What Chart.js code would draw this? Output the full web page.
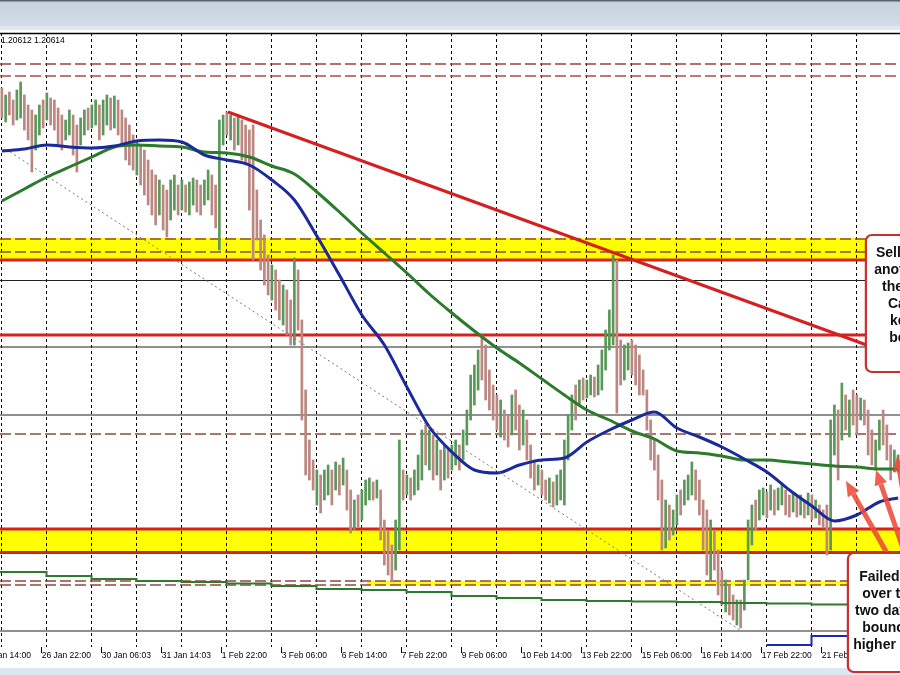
<!DOCTYPE html>
<html><head><meta charset="utf-8">
<script src="https://cdn.jsdelivr.net/npm/chart.js@4/dist/chart.umd.min.js"></script>
<style>html,body{margin:0;padding:0;background:#fff;overflow:hidden}#wrap{width:900px;height:675px;position:relative}</style>
</head><body><div id="wrap"><canvas id="c" width="900" height="675"></canvas></div>
<script>
// ---- data: GBPUSD, 2-hour bars (price) ----
const highs = [
1.2445,1.2438,1.2441,1.2433,1.2443,1.2451,1.2438,1.2428,1.2423,1.2418,
1.2428,1.2433,1.2440,1.2435,1.2433,1.2425,1.2418,1.2413,1.2423,1.2418,
1.2408,1.2415,1.2423,1.2425,1.2428,1.2433,1.2428,1.2433,1.2438,1.2435,
1.2437,1.2433,1.2423,1.2415,1.2408,1.2398,1.2393,1.2388,1.2383,1.2373,
1.2363,1.2358,1.2353,1.2348,1.2343,1.2353,1.2358,1.2348,1.2353,1.2348,
1.2351,1.2355,1.2353,1.2348,1.2353,1.2363,1.2358,1.2348,1.2413,1.2418,
1.2421,1.2418,1.2415,1.2418,1.2413,1.2408,1.2403,1.2408,1.2343,1.2313,
1.2298,1.2278,1.2268,1.2263,1.2253,1.2248,1.2243,1.2233,1.2275,1.2263,
1.2213,1.2143,1.2093,1.2073,1.2063,1.2058,1.2063,1.2068,1.2063,1.2071,
1.2068,1.2075,1.2063,1.2043,1.2033,1.2038,1.2043,1.2053,1.2055,1.2051,
1.2053,1.2043,1.2013,1.2003,1.1988,1.2013,1.2093,1.2063,1.2058,1.2055,
1.2063,1.2078,1.2103,1.2108,1.2103,1.2098,1.2093,1.2083,1.2088,1.2083,
1.2088,1.2093,1.2088,1.2103,1.2123,1.2158,1.2168,1.2183,1.2198,1.2188,
1.2163,1.2148,1.2138,1.2133,1.2123,1.2118,1.2138,1.2143,1.2128,1.2123,
1.2113,1.2088,1.2073,1.2068,1.2063,1.2053,1.2055,1.2051,1.2058,1.2063,
1.2093,1.2118,1.2138,1.2148,1.2153,1.2155,1.2153,1.2158,1.2156,1.2168,
1.2183,1.2203,1.2223,1.2278,1.2273,1.2193,1.2188,1.2190,1.2193,1.2188,
1.2178,1.2163,1.2143,1.2113,1.2093,1.2078,1.2053,1.2033,1.2028,1.2023,
1.2038,1.2043,1.2053,1.2058,1.2071,1.2063,1.2053,1.2033,1.2023,1.2013,
1.2003,1.1983,1.1963,1.1953,1.1948,1.1938,1.1933,1.1933,1.1953,1.2013,
1.2028,1.2033,1.2043,1.2045,1.2041,1.2048,1.2043,1.2045,1.2050,1.2043,
1.2038,1.2040,1.2036,1.2038,1.2033,1.2040,1.2038,1.2033,1.2028,1.2023,
1.2028,1.2113,1.2128,1.2123,1.2150,1.2138,1.2133,1.2143,1.2138,1.2135,
1.2133,1.2123,1.2103,1.2093,1.2113,1.2123,1.2108,1.2088,1.2083,1.2078];
const lows = [
1.2415,1.2411,1.2418,1.2408,1.2413,1.2415,1.2403,1.2393,1.2361,1.2383,
1.2398,1.2405,1.2413,1.2408,1.2403,1.2388,1.2383,1.2393,1.2398,1.2378,
1.2361,1.2388,1.2398,1.2403,1.2405,1.2408,1.2393,1.2398,1.2408,1.2403,
1.2405,1.2398,1.2388,1.2373,1.2368,1.2363,1.2358,1.2348,1.2338,1.2328,
1.2318,1.2308,1.2318,1.2303,1.2296,1.2313,1.2323,1.2318,1.2323,1.2321,
1.2318,1.2328,1.2321,1.2318,1.2328,1.2333,1.2318,1.2305,1.2283,1.2388,
1.2398,1.2393,1.2383,1.2388,1.2373,1.2368,1.2323,1.2273,1.2293,1.2263,
1.2248,1.2238,1.2233,1.2223,1.2213,1.2208,1.2198,1.2188,1.2188,1.2203,
1.2113,1.2058,1.2053,1.2043,1.2028,1.2020,1.2033,1.2038,1.2028,1.2043,
1.2038,1.2048,1.2023,1.2000,1.2003,1.2006,1.2013,1.2028,1.2033,1.2033,
1.2035,1.1993,1.1968,1.1958,1.1951,1.1963,1.1983,1.2033,1.2038,1.2033,
1.2038,1.2043,1.2053,1.2068,1.2063,1.2053,1.2058,1.2043,1.2053,1.2055,
1.2063,1.2068,1.2063,1.2073,1.2088,1.2113,1.2128,1.2143,1.2153,1.2133,
1.2123,1.2113,1.2103,1.2096,1.2093,1.2086,1.2098,1.2103,1.2083,1.2088,
1.2073,1.2055,1.2043,1.2048,1.2038,1.2033,1.2030,1.2026,1.2028,1.2033,
1.2028,1.2073,1.2103,1.2113,1.2128,1.2133,1.2135,1.2138,1.2136,1.2138,
1.2143,1.2163,1.2183,1.2188,1.2120,1.2148,1.2153,1.2163,1.2158,1.2148,
1.2138,1.2138,1.2103,1.2073,1.2063,1.2033,1.1983,1.1985,1.1993,1.1998,
1.2008,1.2018,1.2028,1.2033,1.2038,1.2033,1.2018,1.1983,1.1958,1.1953,
1.1963,1.1938,1.1928,1.1921,1.1918,1.1913,1.1908,1.1905,1.1923,1.1953,
1.1988,1.2003,1.2013,1.2018,1.2015,1.2023,1.2018,1.2023,1.2028,1.2018,
1.2016,1.2021,1.2016,1.2018,1.2015,1.2018,1.2013,1.2015,1.2008,1.2005,
1.1978,1.1983,1.2078,1.2053,1.2093,1.2103,1.2096,1.2108,1.2098,1.2113,
1.2108,1.2078,1.2068,1.2063,1.2083,1.2088,1.2073,1.2053,1.2061,1.2061];
// u = up bar, d = down bar
const barDir = ("dudduudddu"+"ududddduud"+"duuduuduud"+"uddddduddd"+"ddudduudud"+
  "uudduudduu"+"dududddddd"+"ddudduddud"+"dddduduudu"+"dudduduuud"+
  "udddduudud"+"uuudududud"+"uuduuuuudd"+"dddudduddu"+"dddudduduu"+
  "uuududuudu"+"uuuudduudd"+"dddddddudu"+"uduuuddddu"+"dddudduduu"+
  "uduududuud"+"dududududd"+"duudududdu"+"ddduuddduu").split('');

// moving averages read at bar indices
const maIdx = [0,6,12,18,24,30,36,42,48,54,60,66,72,78,84,90,96,102,108,114,120,126,132,138,144,150,156,162,168,174,180,186,192,198,204,210,216,222,228,234,239];
const ma100 = [1.2382,1.2384,1.2388,1.2386,1.2385,1.2387,1.2392,1.2393,1.2391,1.2378,1.2373,1.2368,1.2353,1.2333,1.2297,1.2258,1.2218,1.2188,1.2146,1.2106,1.2081,1.2063,1.2060,1.2068,1.2073,1.2075,1.2091,1.2103,1.2113,1.2121,1.2105,1.2096,1.2086,1.2074,1.2061,1.2043,1.2027,1.2012,1.2018,1.2031,1.2035];
const ma200 = [1.2332,1.2344,1.2356,1.2366,1.2376,1.2386,1.2388,1.2387,1.2386,1.2381,1.2380,1.2376,1.2367,1.2359,1.2341,1.2321,1.2300,1.2280,1.2260,1.2239,1.2220,1.2202,1.2185,1.2170,1.2154,1.2138,1.2123,1.2113,1.2102,1.2094,1.2082,1.2080,1.2077,1.2073,1.2073,1.2071,1.2069,1.2067,1.2066,1.2064,1.2064];
// daily (step) averages, one value per day
const dayStart = [-0.5,11.9,23.9,35.9,47.9,59.9,71.9,83.9,95.9,107.9,119.9,131.9,143.9,155.9,167.9,179.9,191.9,203.9,215.9,227.9];
const dailyMaGreen = [1.1961,1.1957,1.1954,1.1952,1.1951,1.19495,1.1947,1.1944,1.1943,1.1941,1.1937,1.1935,1.1933,1.1932,1.19315,1.1931,1.1930,1.19295,1.19285,1.1928];
const dailyMaBlue = [null,null,null,null,null,null,null,null,null,null,null,null,null,null,null,null,null,1.1888,1.1897,1.1897];

// axis
const dayGrid = [-0.1,11.9,23.9,35.9,47.9,59.9,71.9,83.9,95.9,107.9,119.9,131.9,143.9,155.9,167.9,179.9,191.9,203.9,215.9,227.9];
const xLabels = ["25 Jan 14:00","26 Jan 22:00","30 Jan 06:03","31 Jan 14:03","1 Feb 22:00","3 Feb 06:00","6 Feb 14:00","7 Feb 22:00","9 Feb 06:00","10 Feb 14:00","13 Feb 22:00","15 Feb 06:00","16 Feb 14:00","17 Feb 22:00","21 Feb 06:00"];
const xLabelPos = [-5.38,10.62,26.62,42.62,58.62,74.62,90.62,106.62,122.62,138.62,154.62,170.62,186.62,202.62,218.62];

// drawn objects (price / bar coordinates)
const yellowZones = [[-0.5,239.5,1.2295,1.2273],[-0.5,239.5,1.2004,1.19805],[97.4,225.4,1.1952,1.1948]];
const redLevels = [1.2273,1.2198,1.2004,1.19805];
const thinLevels = [1.22525,1.2186,1.2118,1.1902];
const dashedLevels = [1.2469,1.2457,1.2294,1.2281,1.2099,1.1952,1.1948];
const trendLine = [60.3,1.2421,231.3,1.2187];
const dottedLine = [2.2,1.2381,196.8,1.1903];
const arrows = [[236.0,1.1980,225.1,1.2052],[240.7,1.1980,233.1,1.2063],[243.0,1.1980,238.7,1.2077]];
const noteBoxes = [
  {box:[230.4,1.2298,260,1.2161], lines:[["Sellers leaned",233.1,1.2280],["another time against",232.6,1.2263],["the 50% of the",234.7,1.2246],["Cable range",236.3,1.2229],["keeping sellers",236.8,1.2212],["below",236.6,1.2195]]},
  {box:[225.6,1.1980,260,1.1861], lines:[["Failed",228.6,1.1956],["over the",229.4,1.1939],["two days",227.5,1.1922],["bounced",229.4,1.1905],["higher",227.0,1.1888]]}
];
const headerText = "1.20612 1.20614";

const UP = '#5a985a', DN = '#bb8780';

function stepPts(vals){
  const pts = dayStart.map((x,i)=>({x:x, y:vals[i]}));
  pts.push({x:239.5, y:vals[vals.length-1]});
  return pts;
}

const overlay = {
  id:'overlay',
  beforeDraw(chart){
    const {ctx, scales:{x,y}} = chart; const W = chart.width;
    ctx.save();
    ctx.fillStyle='#fff'; ctx.fillRect(0,0,W,chart.height);
    const g = ctx.createLinearGradient(0,0,0,26);
    g.addColorStop(0,'#c4d0dd'); g.addColorStop(1,'#d3dde9');
    ctx.fillStyle=g; ctx.fillRect(0,0,W,26);
    ctx.fillStyle='#e0e9f3'; ctx.fillRect(0,26,W,4);
    ctx.fillStyle='#55636f'; ctx.fillRect(0,0,W,1.5);
    ctx.fillStyle='#dde7f2'; ctx.fillRect(0,668,W,7);
    ctx.fillStyle='#ffff00';
    yellowZones.forEach(z=>{
      const x0=x.getPixelForValue(z[0]), x1=x.getPixelForValue(z[1]);
      const y0=y.getPixelForValue(z[2]), y1=y.getPixelForValue(z[3]);
      ctx.fillRect(x0,y0,x1-x0,y1-y0);
    });
    ctx.restore();
  },
  beforeDatasetsDraw(chart){
    const {ctx, chartArea:a, scales:{y}} = chart;
    ctx.save();
    const h=(p,c,w,d)=>{ const yy=y.getPixelForValue(p); ctx.strokeStyle=c; ctx.lineWidth=w; ctx.setLineDash(d); ctx.beginPath(); ctx.moveTo(a.left,yy); ctx.lineTo(a.right,yy); ctx.stroke(); };
    thinLevels.forEach(p=>h(p,'#222',1,[]));
    dashedLevels.forEach((p,i)=>h(p, i===1?'#b04a4a':'#8e4a3c', 1.4, [11,4]));
    redLevels.forEach(p=>h(p,'#d42020',3,[]));
    ctx.restore();
  },
  afterDatasetsDraw(chart){
    const {ctx, chartArea:a, scales:{x,y}} = chart;
    ctx.save();
    ctx.strokeStyle='#000'; ctx.lineWidth=1.3; ctx.setLineDash([]);
    ctx.beginPath(); ctx.moveTo(0,a.top+0.5); ctx.lineTo(chart.width,a.top+0.5); ctx.stroke();
    ctx.strokeStyle='#7a7a7a'; ctx.lineWidth=1; ctx.setLineDash([2,3]);
    ctx.beginPath(); ctx.moveTo(x.getPixelForValue(dottedLine[0]),y.getPixelForValue(dottedLine[1]));
    ctx.lineTo(x.getPixelForValue(dottedLine[2]),y.getPixelForValue(dottedLine[3])); ctx.stroke();
    ctx.setLineDash([]); ctx.strokeStyle='#d42020'; ctx.lineWidth=3;
    ctx.beginPath(); ctx.moveTo(x.getPixelForValue(trendLine[0]),y.getPixelForValue(trendLine[1]));
    ctx.lineTo(x.getPixelForValue(trendLine[2]),y.getPixelForValue(trendLine[3])); ctx.stroke();
    ctx.fillStyle='#000'; ctx.font='8.5px "Liberation Sans", Arial, sans-serif'; ctx.textBaseline='middle'; ctx.textAlign='left';
    ctx.fillText(headerText, 1, a.top+8);
    ctx.restore();
  },
  afterDraw(chart){
    const {ctx, scales:{x,y}} = chart;
    ctx.save();
    arrows.forEach(r=>{
      const x0=x.getPixelForValue(r[0]), y0=y.getPixelForValue(r[1]), x1=x.getPixelForValue(r[2]), y1=y.getPixelForValue(r[3]);
      const ang=Math.atan2(y1-y0,x1-x0), hl=15, hw=13;
      const bx=x1-hl*Math.cos(ang), by=y1-hl*Math.sin(ang);
      ctx.strokeStyle='rgba(236,74,56,0.88)'; ctx.fillStyle='rgba(236,74,56,0.88)'; ctx.lineWidth=5;
      ctx.beginPath(); ctx.moveTo(x0,y0); ctx.lineTo(bx,by); ctx.stroke();
      ctx.beginPath(); ctx.moveTo(x1,y1);
      ctx.lineTo(bx+hw/2*Math.sin(ang), by-hw/2*Math.cos(ang));
      ctx.lineTo(bx-hw/2*Math.sin(ang), by+hw/2*Math.cos(ang));
      ctx.closePath(); ctx.fill();
    });
    noteBoxes.forEach(nb=>{
      const b=nb.box; const x0=x.getPixelForValue(b[0]), y0=y.getPixelForValue(b[1]), x1=x.getPixelForValue(b[2]), y1=y.getPixelForValue(b[3]);
      ctx.fillStyle='#fff'; ctx.strokeStyle='#c8302c'; ctx.lineWidth=2.2;
      ctx.beginPath(); ctx.roundRect(x0,y0,x1-x0,y1-y0,6); ctx.fill(); ctx.stroke();
      ctx.fillStyle='#111'; ctx.font='bold 14px "Liberation Sans", Arial, sans-serif'; ctx.textBaseline='middle'; ctx.textAlign='left';
      nb.lines.forEach(l=>ctx.fillText(l[0], x.getPixelForValue(l[1]), y.getPixelForValue(l[2])));
    });
    ctx.restore();
  }
};

new Chart(document.getElementById('c'), {
  type:'bar',
  data:{datasets:[
    {type:'line', label:'MA 100', data:maIdx.map((k,i)=>({x:k,y:ma100[i]})), borderColor:'#1b2a9b', borderWidth:3, pointRadius:0, cubicInterpolationMode:'monotone', order:1},
    {type:'line', label:'MA 200', data:maIdx.map((k,i)=>({x:k,y:ma200[i]})), borderColor:'#2b7b2b', borderWidth:3, pointRadius:0, cubicInterpolationMode:'monotone', order:1},
    {type:'line', label:'Daily MA', data:stepPts(dailyMaGreen), stepped:true, borderColor:'#2f7a2f', borderWidth:2, pointRadius:0, order:2},
    {type:'line', label:'Daily MA 2', data:stepPts(dailyMaBlue), stepped:true, borderColor:'#1a2ab0', borderWidth:2, pointRadius:0, spanGaps:false, order:2},
    {type:'bar', label:'GBPUSD H2', data:highs.map((h,k)=>({x:k, y:[lows[k],h]})), backgroundColor:barDir.map(d=>d==='u'?UP:DN), borderWidth:0, barThickness:2, grouped:false, order:3}
  ]},
  options:{
    responsive:false, animation:false, devicePixelRatio:1,
    layout:{padding:{left:0,right:0,top:33,bottom:10}},
    plugins:{legend:{display:false}, tooltip:{enabled:false}},
    scales:{
      x:{type:'linear', min:-0.5, max:239.5, offset:false,
        afterBuildTicks:s=>{ s.ticks = dayGrid.concat(xLabelPos).map(v=>({value:v})); },
        afterFit:s=>{ s.height = 18; },
        grid:{offset:false, lineWidth:1, tickLength:6, tickWidth:1,
          color:c=>c.index<dayGrid.length?'#000':'rgba(0,0,0,0)',
          tickColor:c=>c.index<dayGrid.length?'rgba(0,0,0,0)':'#000'},
        border:{display:false, dash:[3,3]},
        ticks:{autoSkip:false, maxRotation:0, minRotation:0, align:'start', padding:-2, color:'#000',
          font:{family:'"Liberation Sans", Arial, sans-serif', size:8.5},
          callback:(v,i)=> i<dayGrid.length ? '' : xLabels[i-dayGrid.length]}
      },
      y:{display:false, min:1.1886, max:1.2500}
    }
  },
  plugins:[overlay]
});
</script></body></html>
